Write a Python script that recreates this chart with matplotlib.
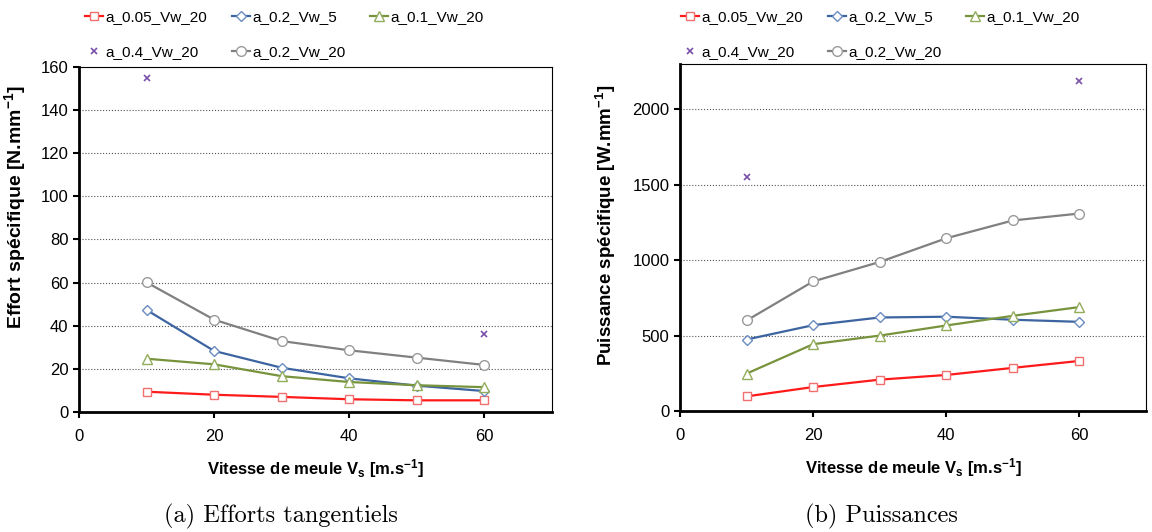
import matplotlib.pyplot as plt
import numpy as np

plt.rcParams['font.family'] = ['Liberation Sans', 'DejaVu Sans']
plt.rcParams['mathtext.fontset'] = 'custom'
plt.rcParams['mathtext.rm'] = 'Liberation Sans:bold'
plt.rcParams['mathtext.it'] = 'Liberation Sans:bold'
plt.rcParams['mathtext.bf'] = 'Liberation Sans:bold'

vs = [10, 20, 30, 40, 50, 60]
vs_x = [10, 60]

# efforts tangentiels [N/mm]
f_005_20 = [9.4, 8.0, 7.0, 5.9, 5.4, 5.4]
f_02_5 = [47.3, 28.3, 20.5, 15.6, 12.2, 9.7]
f_01_20 = [24.7, 22.1, 16.6, 13.9, 12.4, 11.5]
f_04_20 = [155.0, 36.2]
f_02_20 = [60.1, 42.8, 32.9, 28.6, 25.2, 21.8]

# puissances [W/mm]
p_005_20 = [97, 159, 208, 239, 286, 332]
p_02_5 = [474, 569, 620, 625, 605, 591]
p_01_20 = [248, 443, 500, 567, 631, 689]
p_04_20 = [1548, 2186]
p_02_20 = [600, 859, 988, 1145, 1263, 1309]


def draw(ax, d005, d02_5, d01, d04, d02_20):
    ax.plot(vs, d005, color='#ff1a1a', lw=1.6, marker='s', ms=6, mfc='white',
            mec='#f07070', label='a_0.05_Vw_20')
    ax.plot(vs, d02_5, color='#3c64a0', lw=1.6, marker='D', ms=5, mfc='white',
            mec='#6a8cc0', label='a_0.2_Vw_5')
    ax.plot(vs, d01, color='#77933c', lw=1.6, marker='^', ms=7, mfc='white',
            mec='#93ad5c', label='a_0.1_Vw_20')
    ax.plot(vs_x, d04, ls='none', color='#7a4fa8', marker='x', ms=5, mew=1.2,
            label='a_0.4_Vw_20')
    ax.plot(vs, d02_20, color='#808080', lw=1.6, marker='o', ms=7, mfc='white',
            mec='#9a9a9a', label='a_0.2_Vw_20')
    ax.set_xlim(0, 70)
    ax.set_xticks([0, 20, 40, 60])
    ax.yaxis.grid(True, ls=':', color='#555555', lw=0.8)
    ax.set_axisbelow(True)
    for s in ['top', 'right']:
        ax.spines[s].set_linewidth(0.8)
    for s in ['left', 'bottom']:
        ax.spines[s].set_linewidth(2)
    ax.tick_params(direction='out', width=1.5, length=4, labelsize=12)
    ax.tick_params(axis='x', pad=8)
    ax.set_xlabel('Vitesse de meule V$_s$ [m.s$^{-1}$]', fontweight='bold',
                  fontsize=12, labelpad=10)
    handles, labels = ax.get_legend_handles_labels()
    return handles, labels


fig = plt.figure(figsize=(11.52, 5.32), dpi=100)
ax1 = fig.add_axes([0.0686, 0.2256, 0.4106, 0.6485])
ax2 = fig.add_axes([0.5903, 0.2274, 0.4045, 0.6523])

h, l = draw(ax1, f_005_20, f_02_5, f_01_20, f_04_20, f_02_20)
ax1.set_ylim(0, 160)
ax1.set_yticks(np.arange(0, 161, 20))
ax1.set_ylabel('Effort spécifique [N.mm$^{-1}$]', fontweight='bold', fontsize=14)
ax1.yaxis.set_label_coords(-0.108, 0.594)

draw(ax2, p_005_20, p_02_5, p_01_20, p_04_20, p_02_20)
ax2.set_ylim(0, 2300)
ax2.set_yticks([0, 500, 1000, 1500, 2000])
ax2.set_ylabel('Puissance spécifique [W.mm$^{-1}$]', fontweight='bold', fontsize=13.5)
ax2.yaxis.set_label_coords(-0.133, 0.536)

order = [0, 3, 1, 4, 2]
hh = [h[i] for i in order]
ll = [l[i] for i in order]
for x0 in [0.0738, 0.591]:
    fig.legend(hh, ll, ncol=3, frameon=False, fontsize=11, handlelength=1.2,
               handletextpad=0.15, columnspacing=1.6, labelspacing=1.4,
               borderpad=0, borderaxespad=0,
               loc='upper left', bbox_to_anchor=(x0, 0.981))

fig.text(0.244, 0.03, '(a) Efforts tangentiels', fontsize=17.5, family='cmr10',
         ha='center', va='center')
fig.text(0.765, 0.03, '(b) Puissances', fontsize=17.5, family='cmr10',
         ha='center', va='center')

fig.savefig('out.png', dpi=100)
